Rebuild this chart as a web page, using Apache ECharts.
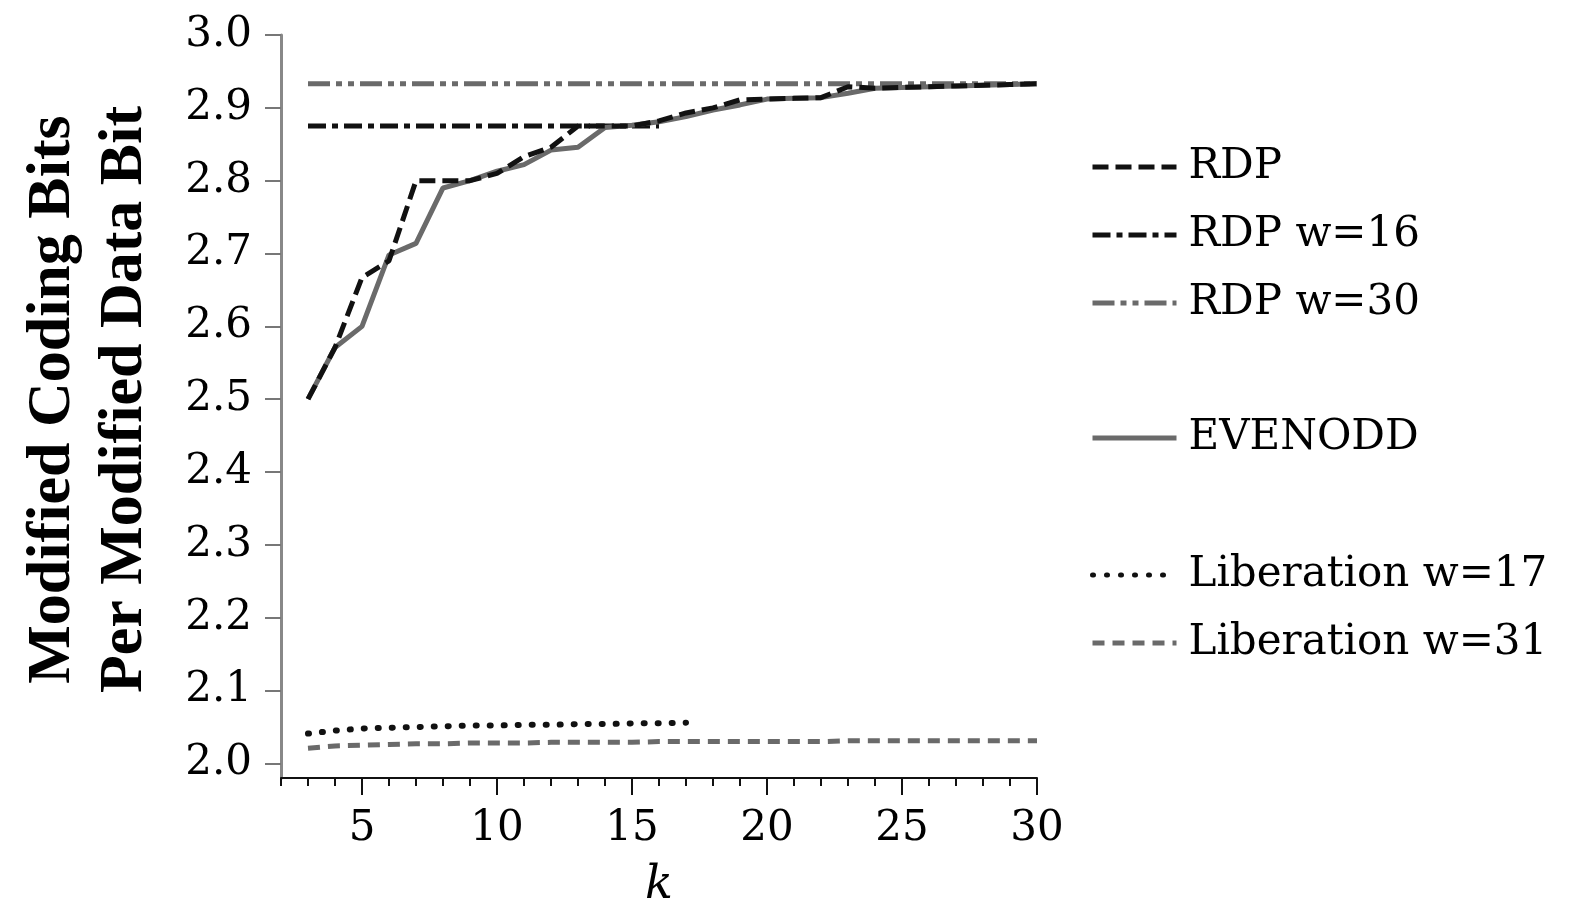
<!DOCTYPE html>
<html>
<head>
<meta charset="utf-8">
<script src="https://cdn.jsdelivr.net/npm/echarts@6/dist/echarts.min.js"></script>
<style>
  html, body { margin: 0; padding: 0; background: #fff; }
  #chart { width: 1569px; height: 907px; }
</style>
</head>
<body>
<div id="chart"></div>
<script>
// k values for each series
const kAll = [3, 4, 5, 6, 7, 8, 9, 10, 11, 12, 13, 14, 15, 16, 17, 18, 19, 20, 21, 22, 23, 24, 25, 26, 27, 28, 29, 30];
const kW16 = [3, 4, 5, 6, 7, 8, 9, 10, 11, 12, 13, 14, 15, 16];
const kW17 = [3, 4, 5, 6, 7, 8, 9, 10, 11, 12, 13, 14, 15, 16, 17];

const rdp = [2.5, 2.571, 2.667, 2.69, 2.8, 2.8, 2.8, 2.81, 2.833, 2.846, 2.875, 2.875, 2.875, 2.882,
  2.893, 2.9, 2.911, 2.912, 2.913, 2.914, 2.929, 2.927, 2.928, 2.929, 2.93, 2.931, 2.932, 2.933];
const rdpW16 = [2.875, 2.875, 2.875, 2.875, 2.875, 2.875, 2.875, 2.875, 2.875, 2.875, 2.875, 2.875, 2.875, 2.875];
const rdpW30 = [2.933, 2.933, 2.933, 2.933, 2.933, 2.933, 2.933, 2.933, 2.933, 2.933, 2.933, 2.933, 2.933, 2.933,
  2.933, 2.933, 2.933, 2.933, 2.933, 2.933, 2.933, 2.933, 2.933, 2.933, 2.933, 2.933, 2.933, 2.933];
const evenodd = [2.5, 2.571, 2.6, 2.698, 2.714, 2.79, 2.8, 2.813, 2.822, 2.842, 2.846, 2.873, 2.876, 2.881,
  2.888, 2.897, 2.904, 2.912, 2.913, 2.914, 2.92, 2.927, 2.928, 2.929, 2.93, 2.931, 2.932, 2.933];
const libW17 = [2.041, 2.045, 2.048, 2.049, 2.05, 2.051, 2.052, 2.052, 2.053, 2.053, 2.054, 2.054, 2.055, 2.055, 2.056];
const libW31 = [2.021, 2.024, 2.025, 2.026, 2.027, 2.027, 2.028, 2.028, 2.028, 2.029, 2.029, 2.029, 2.029, 2.03,
  2.03, 2.03, 2.03, 2.03, 2.03, 2.03, 2.031, 2.031, 2.031, 2.031, 2.031, 2.031, 2.031, 2.031];

// tick labels
const yTicks = [2.0, 2.1, 2.2, 2.3, 2.4, 2.5, 2.6, 2.7, 2.8, 2.9, 3.0];
const xMajorTicks = [5, 10, 15, 20, 25, 30];

// the original text is a wide Times, DejaVu Serif gets the widths closest
const wideSerif = '"DejaVu Serif", "Liberation Serif", serif';
const serif = '"Liberation Serif", "DejaVu Serif", serif';
const BLACK = '#111';
const GREY = '#6a6a6a';

const pairs = (ks, vs) => ks.map((k, i) => [k, vs[i]]);

const lineSeries = (name, ks, vs, color, dash, width, cap) => ({
  name: name,
  type: 'line',
  data: pairs(ks, vs),
  symbol: 'none',
  xAxisIndex: 0,
  lineStyle: { color: color, width: width || 5, type: dash, cap: cap || 'butt' },
  itemStyle: { color: color },
});

const legendBase = {
  orient: 'vertical',
  left: 1085,
  itemWidth: 84,
  itemHeight: 20,
  itemGap: 24,
  selectedMode: false,
  itemStyle: { opacity: 0 },
  lineStyle: { width: 5 },
  textStyle: { fontFamily: wideSerif, fontSize: 42, color: '#000', lineHeight: 44, padding: [0, 0, 0, 7] },
};

const chart = echarts.init(document.getElementById('chart'));

const options = {
  animation: false,
  backgroundColor: '#fff',
  // keep the plot box fixed, the axis name sits right at the bottom edge
  grid: { left: 281, right: 532, top: 35, bottom: 129, containLabel: false, outerBoundsMode: 'none' },
  legend: [
    Object.assign({}, legendBase, { top: 140, data: ['RDP', 'RDP w=16', 'RDP w=30'] }),
    Object.assign({}, legendBase, { top: 411, data: ['EVENODD'] }),
    Object.assign({}, legendBase, { top: 548, data: ['Liberation w=17', 'Liberation w=31'] }),
  ],
  xAxis: [
    {
      type: 'value',
      min: 2,
      max: 30,
      interval: 1,
      axisLine: { show: true, onZero: false, lineStyle: { color: BLACK, width: 2 } },
      axisTick: { show: true, length: 8, lineStyle: { color: BLACK, width: 2 } },
      axisLabel: { show: false },
      splitLine: { show: false },
    },
    {
      type: 'value',
      min: 2,
      max: 30,
      position: 'bottom',
      axisLine: { show: false, onZero: false },
      axisTick: { show: true, length: 17, customValues: xMajorTicks, lineStyle: { color: BLACK, width: 2 } },
      axisLabel: {
        show: true,
        customValues: xMajorTicks,
        margin: 30,
        fontFamily: wideSerif,
        fontSize: 42,
        color: '#000',
      },
      splitLine: { show: false },
      name: 'k',
      nameLocation: 'middle',
      nameGap: 85,
      nameTextStyle: { fontFamily: wideSerif, fontSize: 46, fontStyle: 'italic', color: '#000' },
    },
  ],
  yAxis: {
    type: 'value',
    min: 1.98,
    max: 3.0,
    axisLine: { show: true, lineStyle: { color: '#888', width: 3 } },
    axisTick: { show: true, length: 16, customValues: yTicks, lineStyle: { color: '#777', width: 2 } },
    axisLabel: {
      customValues: yTicks,
      formatter: (v) => v.toFixed(1),
      margin: 29,
      fontFamily: wideSerif,
      fontSize: 42,
      color: '#000',
    },
    splitLine: { show: false },
    name: 'Modified Coding Bits\nPer Modified Data Bit',
    nameLocation: 'middle',
    nameGap: 120,
    nameTextStyle: {
      fontFamily: serif,
      fontSize: 62,
      fontWeight: 'bold',
      color: '#000',
      lineHeight: 72,
      padding: [0, 0, 0, 14],
    },
  },
  series: [
    lineSeries('RDP w=30', kAll, rdpW30, GREY, [22, 6, 6, 6, 6, 6]),
    lineSeries('RDP w=16', kW16, rdpW16, BLACK, [18, 6, 6, 6]),
    lineSeries('Liberation w=31', kAll, libW31, GREY, [12, 8], 5),
    lineSeries('Liberation w=17', kW17, libW17, BLACK, [1, 13], 6, 'round'),
    lineSeries('EVENODD', kAll, evenodd, GREY, 'solid'),
    lineSeries('RDP', kAll, rdp, BLACK, [16, 7]),
  ],
};

chart.setOption(options);
</script>
</body>
</html>
